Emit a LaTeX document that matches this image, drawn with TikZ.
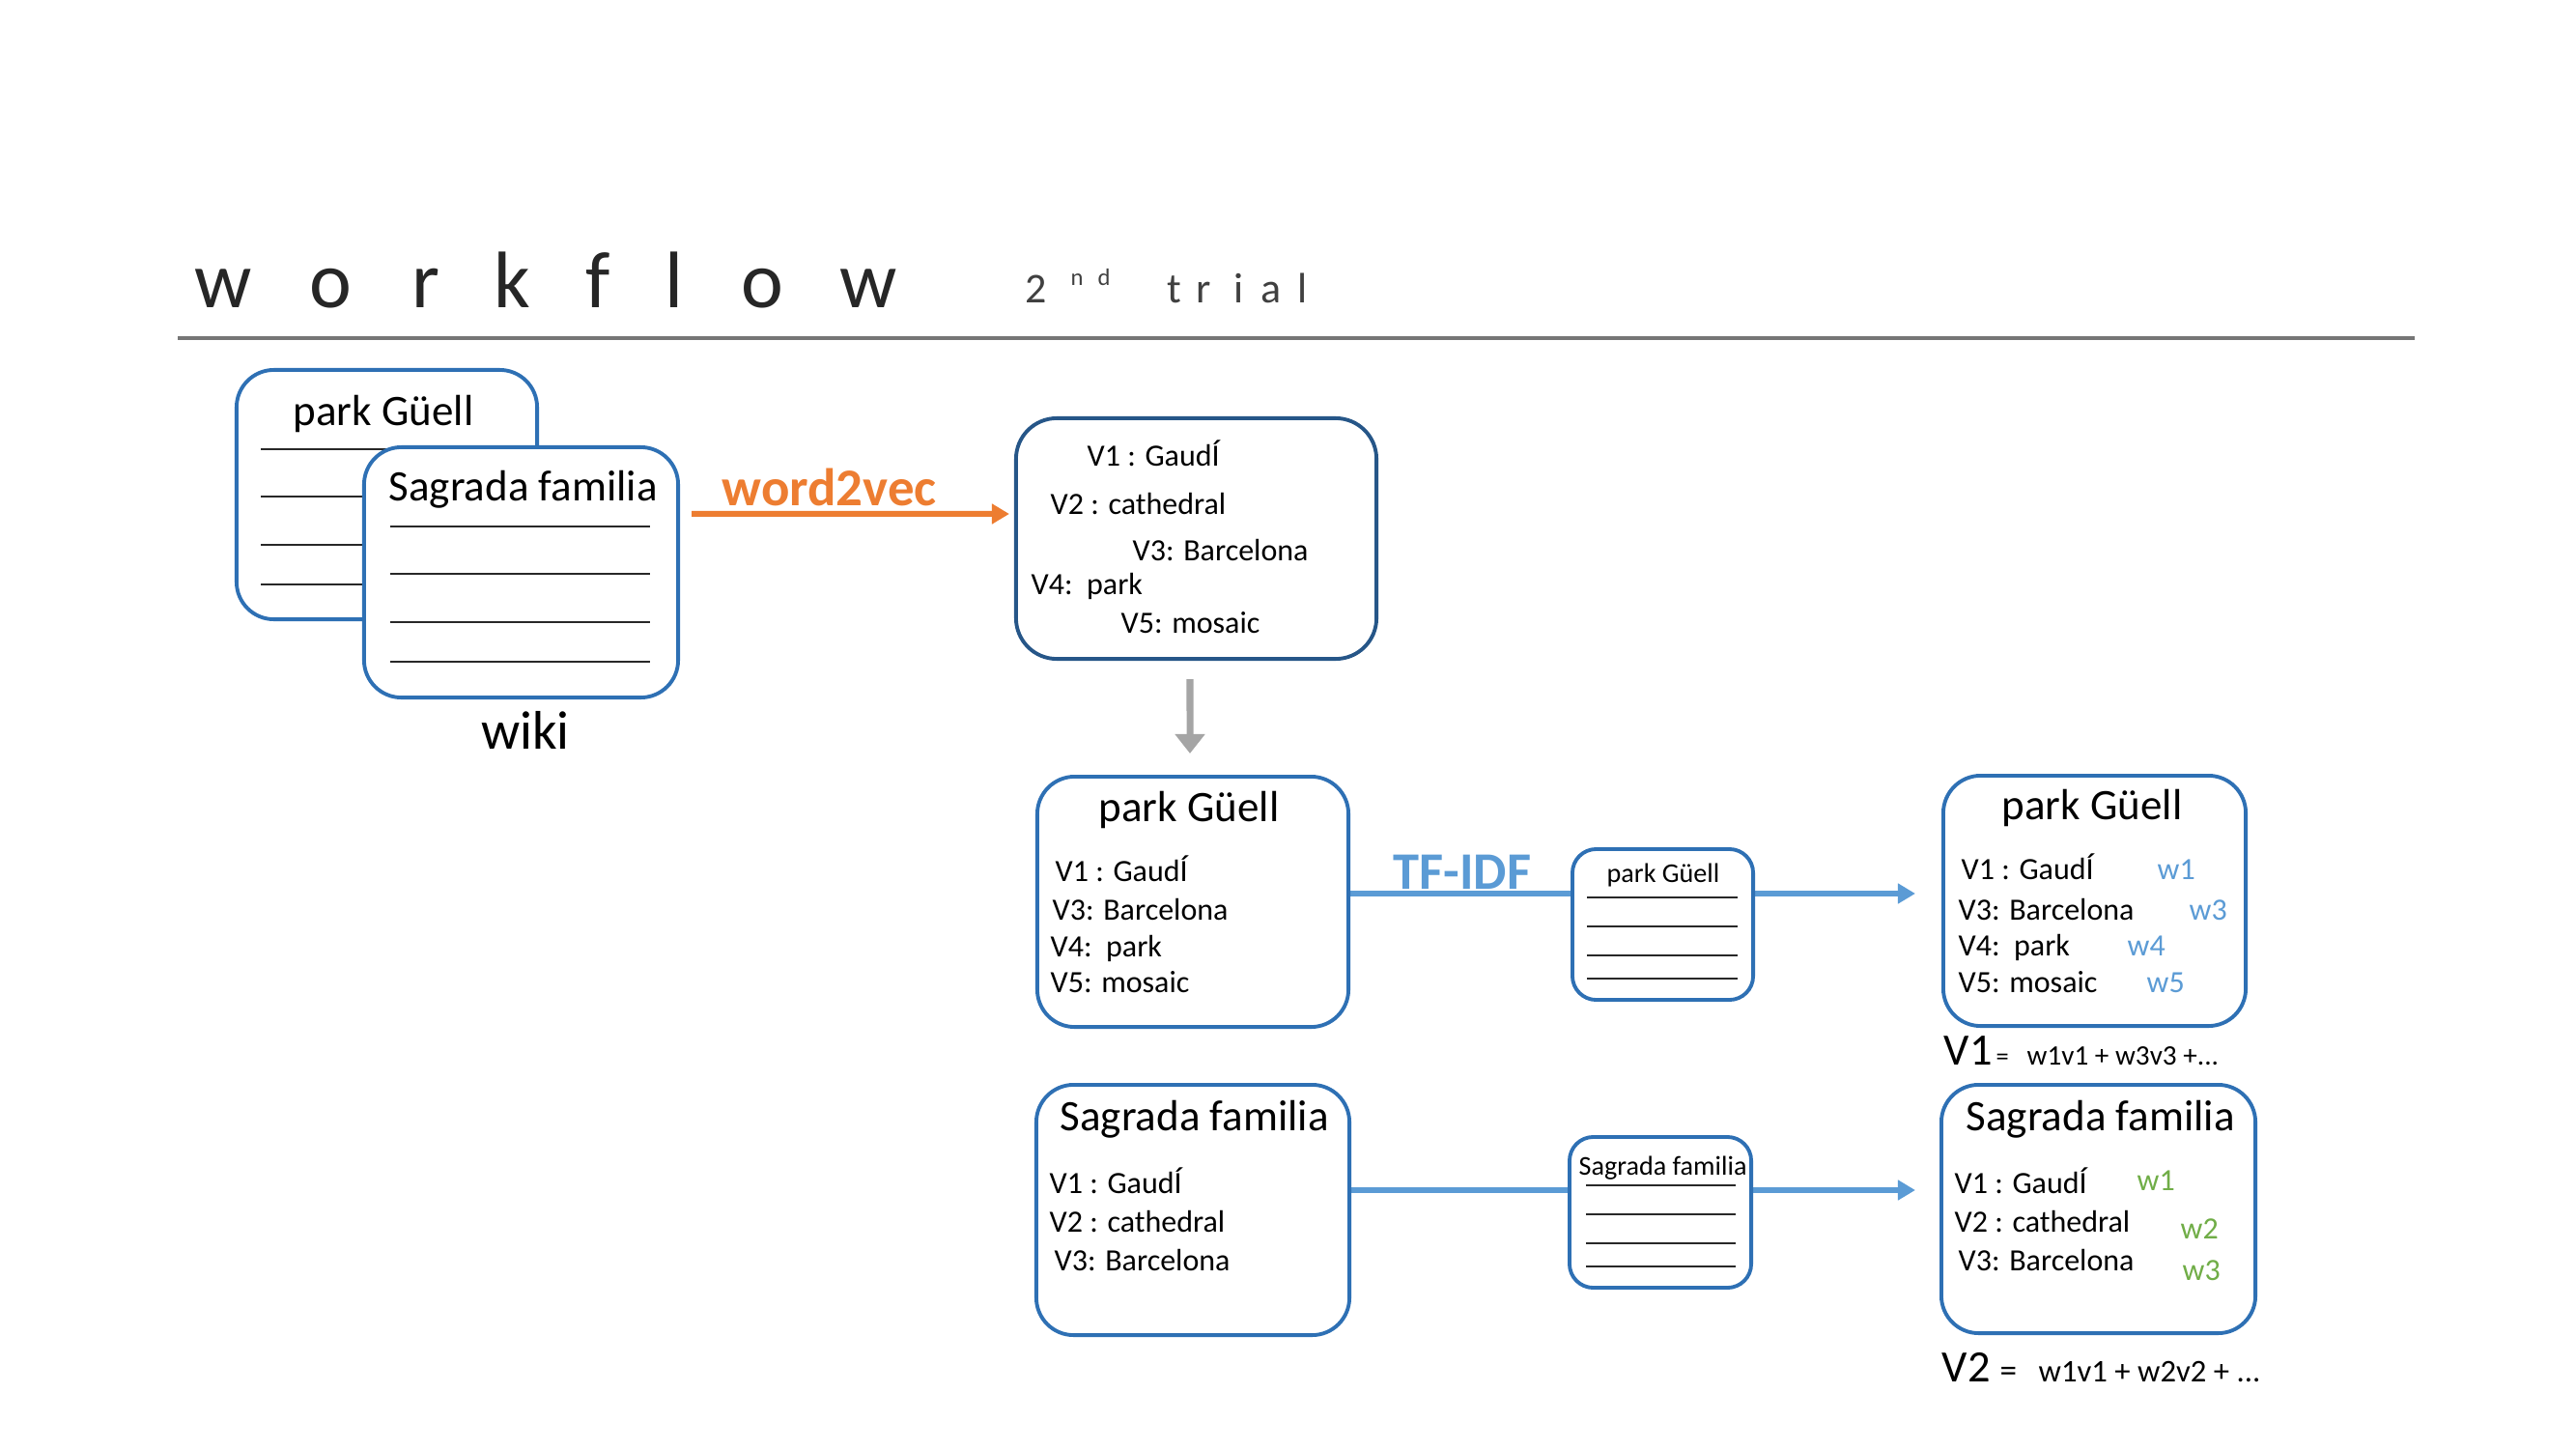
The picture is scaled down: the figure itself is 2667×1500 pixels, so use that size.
\documentclass[tikz,border=0pt]{standalone}
\usepackage{fontspec}
\setmainfont{Carlito}
\usetikzlibrary{arrows.meta,backgrounds}
\definecolor{docblue}{RGB}{46,112,180}
\definecolor{darkblue}{RGB}{38,86,136}
\definecolor{lightblue}{RGB}{91,155,213}
\definecolor{wvorange}{RGB}{237,125,49}
\definecolor{wgreen}{RGB}{112,173,71}
\definecolor{rulegray}{RGB}{118,118,118}
\definecolor{arrowgray}{RGB}{165,165,165}
\definecolor{titlecol}{RGB}{38,38,38}
\definecolor{subcol}{RGB}{64,64,64}
\definecolor{linecol}{RGB}{40,40,40}
\newcommand{\myfs}[1]{\fontsize{#1}{#1}\selectfont}
\begin{document}
\begin{tikzpicture}[x=0.01cm,y=-0.01cm,
  box/.style={draw=docblue,line width=1.1pt,fill=white,rounded corners=11pt,inner sep=0pt},
  smallbox/.style={draw=docblue,line width=1.1pt,fill=white,rounded corners=7pt,inner sep=0pt},
  txt/.style={inner sep=0pt,anchor=base west,font=\myfs{9.1pt}},
  ttl/.style={inner sep=0pt,anchor=base west,font=\myfs{12.8pt}},
  stl/.style={inner sep=0pt,anchor=base west,font=\myfs{8pt}},
  wblue/.style={txt,text=lightblue},
  wgr/.style={txt,text=wgreen},
  docline/.style={draw=linecol,line width=0.4pt},
  tfline/.style={draw=lightblue,line width=1.7pt,-{Triangle[length=0.18cm,width=0.2cm]}},
  wvline/.style={draw=wvorange,line width=1.7pt,-{Triangle[length=0.18cm,width=0.2cm]}},
  grayarrow/.style={draw=arrowgray,line width=2pt,-{Triangle[length=0.2cm,width=0.3cm]}},
  tletter/.style={inner sep=0pt,anchor=base,text=titlecol,font=\myfs{23.6pt}},
  sletter/.style={inner sep=0pt,anchor=base,text=subcol,font=\myfs{12.5pt}}
]
\useasboundingbox (0,0) rectangle (2667,1500);

% title
\foreach \ch/\xx [count=\i] in {w/231,o/342,r/441,k/530,f/619,l/698,o/789,w/899}
  \node[tletter] (t\i) at (\xx,318) {\ch};
\foreach \ch/\xx [count=\i] in {2/1073,t/1216,r/1246,i/1283,a/1316,l/1349}
  \node[sletter] (s\i) at (\xx,313) {\ch};
\node[sletter,font=\myfs{7pt}] (sn) at (1115,295) {n};
\node[sletter,font=\myfs{7pt}] (sd) at (1143,295) {d};
\draw[rulegray,line width=1.2pt] (184,350) -- (2500,350);

% wiki documents
\node[box,minimum width=3.11cm,minimum height=2.58cm] (doc1) at (400.5,512) {};
\node[ttl] (doc1t) at (303,440) {park Güell};
\foreach \yy in {465,514,564,605} \draw[docline] (270,\yy) -- (500,\yy);
\node[box,minimum width=3.25cm,minimum height=2.59cm] (doc2) at (539.5,592.5) {};
\node[ttl] (doc2t) at (402,518) {Sagrada familia};
\foreach \yy in {545,594,644,685} \draw[docline] (404,\yy) -- (673,\yy);
\node[inner sep=0pt,anchor=base,font=\myfs{16pt}] (wiki) at (544,775) {wiki};

% word2vec result
\node[box,draw=darkblue,rounded corners=12pt,minimum width=3.73cm,minimum height=2.49cm] (vbox) at (1238.5,557.5) {};
\node[txt] (va1) at (1125,482) {V1 : GaudÍ};
\node[txt] (va2) at (1087,532) {V2 : cathedral};
\node[txt] (va3) at (1172,580) {V3: Barcelona};
\node[txt] (va4) at (1067,615) {V4:\ \ park};
\node[txt] (va5) at (1160,655) {V5: mosaic};

\node[inner sep=0pt,anchor=base west,text=wvorange,font=\bfseries\myfs{15.6pt}] (wvlab) at (747,523) {word2vec};

% middle boxes
\node[box,minimum width=3.22cm,minimum height=2.59cm] (pgmid) at (1235,933.5) {};
\node[ttl] (pgmidt) at (1137,850) {park Güell};
\node[txt] (pm1) at (1092,912) {V1 : GaudÍ};
\node[txt] (pm3) at (1089,952) {V3: Barcelona};
\node[txt] (pm4) at (1087,990) {V4:\ \ park};
\node[txt] (pm5) at (1087,1027) {V5: mosaic};

\node[box,minimum width=3.24cm,minimum height=2.59cm] (sfmid) at (1235,1252.5) {};
\node[ttl] (sfmidt) at (1097,1170) {Sagrada familia};
\node[txt] (sm1) at (1086,1235) {V1 : GaudÍ};
\node[txt] (sm2) at (1086,1275) {V2 : cathedral};
\node[txt] (sm3) at (1091,1315) {V3: Barcelona};

\node[inner sep=0pt,anchor=base west,text=lightblue,font=\bfseries\myfs{15.5pt}] (tflab) at (1442,920) {TF-IDF};

% small documents
\node[smallbox,minimum width=1.87cm,minimum height=1.56cm] (sd1) at (1721.5,957) {};
\node[stl] (sd1t) at (1663,913) {park Güell};
\foreach \yy in {929,959,989,1013} \draw[docline] (1643,\yy) -- (1799,\yy);
\node[smallbox,minimum width=1.88cm,minimum height=1.56cm] (sd2) at (1719,1255) {};
\node[stl] (sd2t) at (1634,1216) {Sagrada familia};
\foreach \yy in {1227,1257,1287,1311} \draw[docline] (1642,\yy) -- (1797,\yy);

% right boxes
\node[box,minimum width=3.13cm,minimum height=2.59cm] (pgright) at (2168.5,932.5) {};
\node[ttl] (pgrt) at (2072,848) {park Güell};
\node[txt] (pr1) at (2030,910) {V1 : GaudÍ};
\node[wblue] (prw1) at (2233,910) {w1};
\node[txt] (pr3) at (2027,952) {V3: Barcelona};
\node[wblue] (prw3) at (2266,952) {w3};
\node[txt] (pr4) at (2027,989) {V4:\ \ park};
\node[wblue] (prw4) at (2202,989) {w4};
\node[txt] (pr5) at (2027,1027) {V5: mosaic};
\node[wblue] (prw5) at (2222,1027) {w5};
\node[inner sep=0pt,anchor=base west,font=\myfs{13.2pt}] (f1a) at (2012,1102) {V1};
\node[inner sep=0pt,anchor=base west,font=\myfs{7.5pt}] (f1b) at (2066,1102) {=};
\node[inner sep=0pt,anchor=base west,font=\myfs{8.3pt}] (f1c) at (2098,1102) {w1v1 + w3v3 +...};

\node[box,minimum width=3.25cm,minimum height=2.57cm] (sfright) at (2172.5,1251.5) {};
\node[ttl] (sfrt) at (2035,1170) {Sagrada familia};
\node[txt] (sr1) at (2023,1235) {V1 : GaudÍ};
\node[wgr] (srw1) at (2212,1232) {w1};
\node[txt] (sr2) at (2023,1275) {V2 : cathedral};
\node[wgr] (srw2) at (2257,1282) {w2};
\node[txt] (sr3) at (2027,1315) {V3: Barcelona};
\node[wgr] (srw3) at (2259,1325) {w3};
\node[inner sep=0pt,anchor=base west,font=\myfs{13.2pt}] (f2a) at (2010,1430) {V2};
\node[inner sep=0pt,anchor=base west,font=\myfs{10pt}] (f2b) at (2070,1430) {=};
\node[inner sep=0pt,anchor=base west,font=\myfs{9.3pt}] (f2c) at (2110,1430) {w1v1 + w2v2 + ...};

% connectors
\begin{scope}[on background layer]
\draw[wvline] ([xshift=0.12cm,yshift=0.605cm]doc2.east) -- ([xshift=-0.05cm,yshift=0.255cm]vbox.west);
\draw[grayarrow] ([xshift=-0.065cm,yshift=-0.19cm]vbox.south) -- ([xshift=-0.03cm,yshift=0.22cm]pgmid.north);
\draw[tfline] ([yshift=0.085cm]pgmid.east) -- ([xshift=-0.27cm,yshift=0.075cm]pgright.west);
\draw[tfline] ([yshift=0.205cm]sfmid.east) -- ([xshift=-0.25cm,yshift=0.195cm]sfright.west);
\end{scope}
\end{tikzpicture}
\end{document}
